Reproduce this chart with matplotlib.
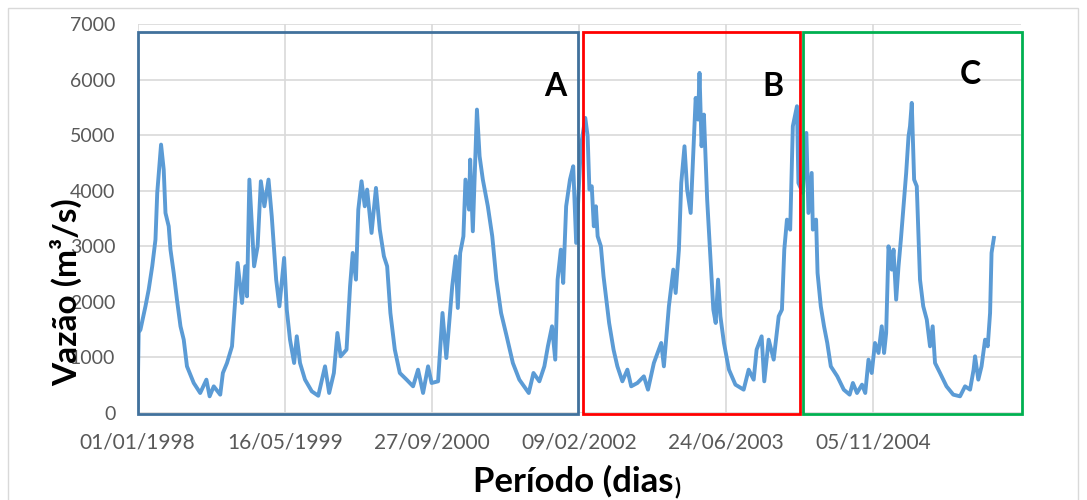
import matplotlib.pyplot as plt
from matplotlib.patches import Rectangle

# daily discharge: day offset from 01/01/1998 and value (m3/s)
days = [0, 4, 10, 27, 38, 50, 61, 67, 80, 89, 95, 106, 112, 123, 134, 146, 157, 168,
        191, 213, 234, 245, 259, 281, 290, 304, 321, 332, 340, 355, 366, 372, 380, 396,
        408, 419, 431, 445, 456, 471, 482, 498, 507, 518, 532, 541, 552, 569, 592, 614,
        637, 651, 667, 679, 690, 710, 722, 731, 742, 750, 761, 772, 780, 795, 810, 823,
        837, 848, 859, 874, 891, 914, 936, 953, 970, 987, 999, 1021, 1036, 1049, 1058,
        1069, 1081, 1088, 1096, 1107, 1114, 1126, 1130, 1139, 1153, 1162, 1173, 1190,
        1205, 1219, 1235, 1254, 1275, 1297, 1329, 1345, 1365, 1382, 1394, 1408, 1419,
        1427, 1438, 1446, 1456, 1469, 1480, 1490, 1506, 1521, 1529, 1535, 1543, 1550,
        1557, 1563, 1574, 1583, 1591, 1602, 1617, 1630, 1647, 1664, 1677, 1698, 1720,
        1734, 1754, 1779, 1788, 1805, 1820, 1828, 1839, 1847, 1858, 1867, 1879, 1888,
        1896, 1904, 1909, 1916, 1924, 1935, 1947, 1956, 1964, 1972, 1980, 1992, 2009,
        2031, 2059, 2076, 2093, 2103, 2120, 2129, 2144, 2161, 2178, 2189, 2197, 2206,
        2217, 2226, 2240, 2245, 2260, 2272, 2279, 2290, 2294, 2305, 2310, 2321, 2332,
        2343, 2355, 2377, 2399, 2419, 2430, 2444, 2461, 2472, 2483, 2494, 2505, 2517,
        2528, 2536, 2543, 2551, 2562, 2568, 2577, 2585, 2593, 2602, 2611, 2619, 2624,
        2630, 2638, 2647, 2658, 2669, 2681, 2692, 2701, 2709, 2726, 2748, 2771, 2794,
        2811, 2828, 2840, 2845, 2856, 2867, 2879, 2888, 2896, 2901, 2909]
flow = [100, 1450, 1500, 1920, 2220, 2640, 3120, 3960, 4830, 4380, 3600, 3360, 2940,
        2520, 2040, 1560, 1320, 840, 540, 360, 600, 300, 480, 330, 720, 900, 1200, 2040,
        2700, 1980, 2640, 2100, 4200, 2640, 3000, 4170, 3720, 4200, 3540, 2400, 1920,
        2790, 1860, 1320, 900, 1380, 900, 600, 390, 310, 840, 360, 720, 1440, 1020, 1140,
        2280, 2880, 2400, 3660, 4170, 3720, 4020, 3240, 4050, 3300, 2820, 2640, 1800,
        1140, 720, 600, 480, 780, 360, 840, 540, 570, 1800, 990, 1560, 2280, 2820, 1890,
        2880, 3180, 4200, 3660, 4560, 3270, 5460, 4620, 4200, 3720, 3180, 2400, 1800,
        1380, 900, 600, 360, 720, 570, 840, 1200, 1560, 960, 2400, 2940, 2340, 3720,
        4200, 4440, 3060, 4800, 5310, 4980, 4020, 4080, 3360, 3720, 3180, 3000, 2460,
        2100, 1620, 1140, 840, 570, 780, 480, 540, 660, 420, 900, 1260, 840, 1920, 2580,
        2160, 2940, 4140, 4800, 4020, 3600, 4680, 5670, 5280, 6120, 4800, 5370, 3840,
        2700, 1860, 1620, 2400, 1740, 1260, 780, 510, 420, 780, 600, 1140, 1380, 570,
        1320, 960, 1740, 1860, 2940, 3480, 3300, 5160, 5520, 4140, 3960, 5040, 3600,
        4320, 3300, 3480, 2520, 1920, 1560, 1260, 840, 660, 420, 330, 540, 360, 510,
        360, 960, 720, 1260, 1080, 1560, 1080, 1440, 3000, 2580, 2940, 2040, 2640, 3120,
        3720, 4320, 4980, 5160, 5580, 4200, 4080, 2400, 1920, 1680, 1200, 1560, 900,
        720, 480, 330, 300, 480, 420, 780, 1020, 600, 840, 1320, 1200, 1800, 2880, 3150]

tick_days = [0, 500, 1000, 1500, 2000, 2500]
tick_labels = ['01/01/1998', '16/05/1999', '27/09/2000', '09/02/2002', '24/06/2003', '05/11/2004']

# highlighted periods: (start day, end day, colour, label)
periods = [(0, 1497, '#41719c', 'A'), (1514, 2252, '#ff0000', 'B'), (2262, 3003, '#00b050', 'C')]
label_pos = [(1420, 5880), (2160, 5880), (2830, 6100)]

plt.rcParams['font.family'] = ['Lato', 'DejaVu Sans']

fig = plt.figure(figsize=(10.87, 5.0), dpi=100)
ax = fig.add_axes([0.1265, 0.174, 0.8125, 0.778])

ax.plot(days, flow, color='#5b9bd5', linewidth=2.8, solid_joinstyle='round', zorder=3)

ax.set_xlim(0, 3000)
ax.set_ylim(0, 7000)
ax.set_yticks(range(0, 7001, 1000))
ax.set_xticks(tick_days)
ax.set_xticklabels(tick_labels)
ax.grid(True, color='#d9d9d9', linewidth=1.2)
ax.set_axisbelow(True)
for s in ax.spines.values():
    s.set_visible(False)
ax.tick_params(length=0, labelsize=14, colors='#595959')
ax.tick_params(axis='x', pad=14, labelsize=15)
ax.tick_params(axis='y', pad=16)

for (x0, x1, c, lab), (lx, ly) in zip(periods, label_pos):
    ax.add_patch(Rectangle((x0, -15), x1 - x0, 6880, fill=False, edgecolor=c,
                           linewidth=2, clip_on=False, zorder=4))
    ax.text(lx, ly, lab, fontsize=23, fontweight='bold', ha='center', va='center')

fig.text(66 / 1087, 0.416, 'Vazão (m³/s)', fontsize=24, fontweight='bold', rotation=90,
         ha='center', va='center')
t = fig.text(0.527, 0.016, 'Período (dias', fontsize=25, fontweight='bold', ha='center', va='baseline')
ax.annotate(')', xy=(1, 0), xycoords=t, xytext=(1, 0), textcoords='offset points',
            fontsize=16, fontweight='bold', va='bottom', ha='left')

fig.add_artist(Rectangle((8 / 1087, -0.1), 1070 / 1087, 1.1 - 8 / 500, fill=False,
                         edgecolor='#d9d9d9', linewidth=1, transform=fig.transFigure))

fig.savefig('out.png', dpi=100)
